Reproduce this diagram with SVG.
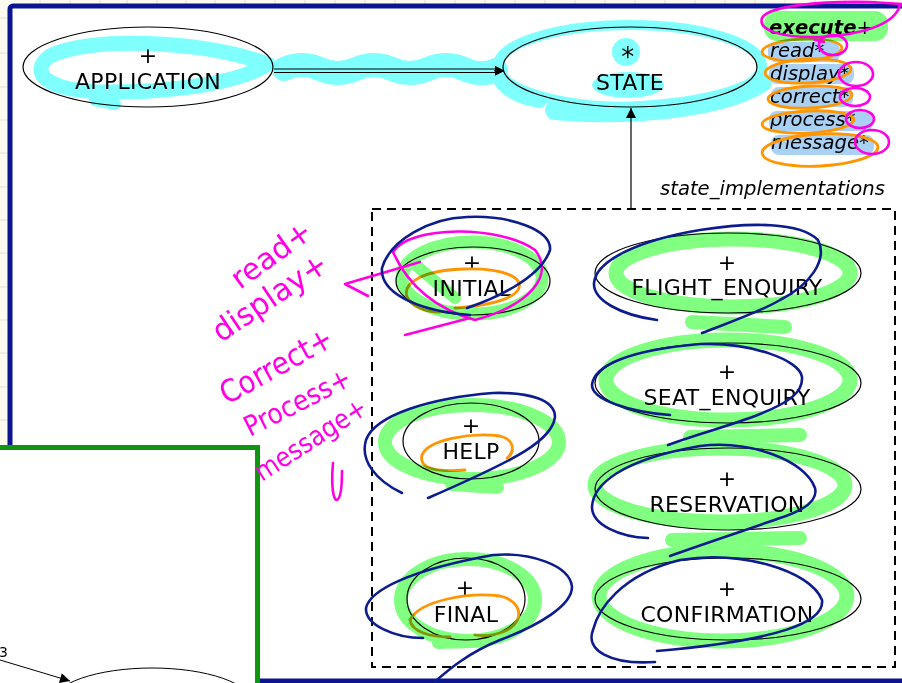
<svg xmlns="http://www.w3.org/2000/svg" width="902" height="683" viewBox="0 0 902 683">
<style>
.node{fill:#fff;stroke:#000;stroke-width:1.2}
.lbl{font-family:"DejaVu Sans",Verdana,sans-serif;font-size:22px;letter-spacing:0.3px;text-anchor:middle;fill:#000}
.feat{font-family:"DejaVu Sans",Verdana,sans-serif;font-style:italic;font-size:19.6px;fill:#000}
.hand{font-family:"DejaVu Sans",sans-serif;font-weight:normal;fill:#ff00e6}
.hl{mix-blend-mode:multiply}
.gr{fill:none;stroke:#80ff80;stroke-linecap:round;stroke-linejoin:round}
.cy{fill:none;stroke:#80ffff;stroke-linecap:round;stroke-linejoin:round}
.or{fill:none;stroke:#ff9500;stroke-width:2.8;stroke-linecap:round}
.mg{fill:none;stroke:#ff00e6;stroke-width:2.6;stroke-linecap:round;stroke-linejoin:round}
.nv{fill:none;stroke:#0c1c8e;stroke-width:2.6;stroke-linecap:round;stroke-linejoin:round}
.grid{stroke:#e4e0d0;stroke-width:1}
</style>
<defs>
<marker id="arr" viewBox="0 0 10 10" refX="10" refY="5" markerWidth="11" markerHeight="10" markerUnits="userSpaceOnUse" orient="auto">
<path d="M0,0 L10,5 L0,10 z" fill="#000"/>
</marker>
</defs>

<!-- background -->
<rect width="902" height="683" fill="#fdfbef"/>
<g class="grid">
<path d="M0 18H8M0 53H8M0 87H8M0 120H8M0 153H8M0 187H8M0 220H8M0 253H8M0 287H8M0 320H8M0 353H8M0 387H8M0 420H8"/>
<path d="M40 0V4M70 0V4M100 0V4M127 0V4M157 0V4M186 0V4M215 0V4M245 0V4M275 0V4M305 0V4M335 0V4M365 0V4M395 0V4M425 0V4M455 0V4M485 0V4M515 0V4M545 0V4M575 0V4M605 0V4M635 0V4M665 0V4M695 0V4M725 0V4M755 0V4M785 0V4M815 0V4M845 0V4M875 0V4"/>
</g>
<rect x="10" y="6" width="900" height="675" rx="3" fill="#fff" stroke="#0b1591" stroke-width="5"/>
<rect x="-10" y="447.5" width="267.5" height="260" fill="#fff" stroke="#0e960e" stroke-width="5"/>

<!-- bottom-left partial content -->
<g id="partial">
<text x="-1" y="657" font-family="DejaVu Sans,sans-serif" font-size="14">3</text>
<ellipse cx="152" cy="703" rx="100" ry="35" fill="none" stroke="#000" stroke-width="1"/>
<path d="M0 660 L70 681" stroke="#000" stroke-width="1" marker-end="url(#arr)"/>
</g>

<!-- connectors -->
<g id="connectors" fill="none" stroke="#000">
<path d="M274 69 H496 M274 72.5 H496" stroke-width="1.2"/>
<path d="M494 70.8 H505" stroke-width="1" marker-end="url(#arr)"/>
<path d="M631 208 V108" stroke-width="1.2" marker-end="url(#arr)"/>
<rect x="372" y="209" width="523" height="458" stroke-width="2" stroke-dasharray="9 6"/>
</g>

<!-- nodes -->
<g id="application">
<ellipse class="node" cx="148" cy="67" rx="125" ry="40"/>
<text class="lbl" x="148" y="63">+</text>
<text class="lbl" x="148" y="89">APPLICATION</text>
</g>
<g id="state">
<ellipse class="node" cx="630" cy="67" rx="127" ry="40"/>
<text class="lbl" x="628" y="66" style="font-size:26px">*</text>
<text class="lbl" x="630" y="90">STATE</text>
<text class="feat" x="769" y="34" font-weight="bold">execute<tspan font-weight="normal">+</tspan></text>
<text class="feat" x="770" y="57">read*</text>
<text class="feat" x="770" y="80">display*</text>
<text class="feat" x="770" y="103">correct*</text>
<text class="feat" x="770" y="126">process*</text>
<text class="feat" x="771" y="149">message*</text>
<text class="feat" x="660" y="195">state_implementations</text>
</g>
<g id="initial">
<ellipse class="node" cx="473" cy="281" rx="77" ry="34"/>
<text class="lbl" x="472" y="270">+</text>
<text class="lbl" x="472" y="296">INITIAL</text>
</g>
<g id="help">
<ellipse class="node" cx="471" cy="441" rx="68" ry="38"/>
<text class="lbl" x="471" y="433">+</text>
<text class="lbl" x="471" y="459">HELP</text>
</g>
<g id="final">
<ellipse class="node" cx="466" cy="599" rx="59" ry="41"/>
<text class="lbl" x="465" y="595">+</text>
<text class="lbl" x="466" y="622">FINAL</text>
</g>
<g id="flight_enquiry">
<ellipse class="node" cx="728" cy="273" rx="133" ry="40"/>
<text class="lbl" x="727" y="270">+</text>
<text class="lbl" x="727" y="295">FLIGHT_ENQUIRY</text>
</g>
<g id="seat_enquiry">
<ellipse class="node" cx="728" cy="383" rx="133" ry="40"/>
<text class="lbl" x="727" y="379">+</text>
<text class="lbl" x="727" y="405">SEAT_ENQUIRY</text>
</g>
<g id="reservation">
<ellipse class="node" cx="728" cy="489" rx="133" ry="41"/>
<text class="lbl" x="727" y="486">+</text>
<text class="lbl" x="727" y="512">RESERVATION</text>
</g>
<g id="confirmation">
<ellipse class="node" cx="728" cy="599" rx="133" ry="41"/>
<text class="lbl" x="727" y="596">+</text>
<text class="lbl" x="727" y="622">CONFIRMATION</text>
</g>

<!-- cyan / light-blue highlights -->
<g class="hl">
<path class="cy" stroke-width="15" d="M268 64 C200 40, 90 36, 50 56 C28 72, 45 92, 110 92 C180 92, 240 82, 268 64"/>
<path class="cy" stroke-width="12" d="M95 100 L115 104"/>
<path class="cy" stroke-width="24" d="M284 69 Q302 61 320 69 T356 69 T392 69 T428 69 T464 69 T496 70"/>
<ellipse class="cy" stroke-width="10" cx="630" cy="66" rx="132" ry="41"/>
<path class="cy" stroke-width="20" d="M555 110 C620 116, 720 110, 762 82"/>
<path class="cy" stroke-width="12" d="M500 82 C510 95, 525 100, 540 102"/>
<circle cx="626" cy="52" r="14" fill="#80ffff"/>
<ellipse cx="628" cy="85" rx="36" ry="13" fill="#80ffff"/>
<g fill="#a9d1f5">
<rect x="768" y="42" width="72" height="20" rx="8"/>
<rect x="769" y="64" width="85" height="20" rx="8"/>
<rect x="771" y="87" width="82" height="20" rx="8"/>
<rect x="769" y="111" width="104" height="20" rx="8"/>
<rect x="771" y="135" width="103" height="20" rx="8"/>
</g>
</g>

<!-- orange pen -->
<g id="orange">
<ellipse class="or" cx="802" cy="50" rx="40" ry="11" transform="rotate(-3 802 50)"/>
<ellipse class="or" cx="808" cy="71" rx="43" ry="12" transform="rotate(-3 808 71)"/>
<ellipse class="or" cx="810" cy="97" rx="42" ry="11" transform="rotate(-3 810 97)"/>
<ellipse class="or" cx="808" cy="122" rx="46" ry="11" transform="rotate(-3 808 122)"/>
<ellipse class="or" cx="820" cy="150" rx="58" ry="16" transform="rotate(-3 820 150)"/>
<path class="or" d="M407 297 C402 282, 425 270, 465 269 C505 268, 525 278, 518 290 C510 302, 480 306, 455 308 M407 297 C412 307, 425 312, 440 312"/>
<path class="or" d="M422 455 C428 440, 470 432, 500 436 C515 440, 515 452, 507 458 M422 455 C418 470, 440 472, 465 470"/>
<path class="or" d="M410 620 C420 600, 470 592, 500 596 C525 602, 525 625, 500 633 C490 636, 480 636, 475 635 M410 620 C412 632, 430 637, 450 637"/>
</g>

<!-- green highlighter -->
<g class="hl">
<rect x="764" y="11" width="124" height="30" rx="13" fill="#80ff80"/>
<ellipse class="gr" stroke-width="13" cx="472" cy="278" rx="70" ry="36"/>
<path class="gr" stroke-width="12" d="M413 263 L455 298"/>
<ellipse class="gr" stroke-width="14" cx="472" cy="442" rx="87" ry="37"/>
<path class="gr" stroke-width="14" d="M452 484 L497 487"/>
<ellipse class="gr" stroke-width="14" cx="468" cy="600" rx="67" ry="41"/>
<path class="gr" stroke-width="12" d="M438 643 L472 642"/>
<ellipse class="gr" stroke-width="15" cx="733" cy="273" rx="117" ry="34"/>
<ellipse class="gr" stroke-width="15" cx="728" cy="380" rx="122" ry="40"/>
<ellipse class="gr" stroke-width="15" cx="720" cy="485" rx="125" ry="37"/>
<ellipse class="gr" stroke-width="15" cx="723" cy="596" rx="124" ry="45"/>
<path class="gr" stroke-width="14" d="M692 322 L785 327"/>
<path class="gr" stroke-width="14" d="M690 437 L800 435"/>
<path class="gr" stroke-width="14" d="M672 540 L800 538"/>
</g>

<!-- magenta pen -->
<g id="magenta">
<path class="mg" d="M900 5 C895 25, 860 35, 820 37 C780 38, 758 30, 762 18 C768 6, 820 1, 870 2 L902 4"/>
<ellipse class="mg" cx="833" cy="45" rx="14" ry="10"/>
<path class="mg" d="M815 40 L824 42"/>
<ellipse class="mg" cx="856" cy="74" rx="17" ry="12"/>
<ellipse class="mg" cx="855" cy="97" rx="15" ry="9"/>
<ellipse class="mg" cx="860" cy="119" rx="14" ry="9"/>
<ellipse class="mg" cx="872" cy="142" rx="17" ry="12"/>
<path class="mg" d="M393 252 C410 225, 500 225, 535 250 C555 275, 530 305, 475 320 C440 310, 410 290, 393 252 M470 318 L405 335"/>
<path class="mg" d="M420 262 L345 284 L368 296"/>
<path class="mg" d="M333 463 C331 485, 333 500, 337 500 C341 498, 342 485, 342 471"/>
<text class="hand" transform="translate(240,290) rotate(-36)" font-size="30" textLength="92" lengthAdjust="spacingAndGlyphs">read+</text>
<text class="hand" transform="translate(221,343) rotate(-34)" font-size="31" textLength="132" lengthAdjust="spacingAndGlyphs">display+</text>
<text class="hand" transform="translate(227,405) rotate(-29)" font-size="31" textLength="124" lengthAdjust="spacingAndGlyphs">Correct+</text>
<text class="hand" transform="translate(250,437) rotate(-27)" font-size="28" textLength="116" lengthAdjust="spacingAndGlyphs">Process+</text>
<text class="hand" transform="translate(262,482) rotate(-33)" font-size="27" textLength="128" lengthAdjust="spacingAndGlyphs">message+</text>
</g>

<!-- navy pen -->
<g id="navy">
<path class="nv" d="M467 308 C490 300, 540 280, 550 250 C552 230, 510 215, 467 217 C430 218, 390 240, 382 268 C380 290, 410 310, 470 315"/>
<path class="nv" d="M402 493 C375 480, 360 460, 366 440 C375 415, 430 398, 493 393 C530 392, 555 400, 555 417 C552 440, 520 458, 428 498"/>
<path class="nv" d="M423 638 C395 638, 365 625, 366 608 C370 590, 410 570, 493 555 C530 552, 570 565, 572 587 C572 605, 540 625, 500 640 C470 652, 450 668, 430 686"/>
<path class="nv" d="M657 320 C620 315, 593 300, 594 283 C596 260, 640 240, 700 230 C750 222, 800 222, 818 240 C828 260, 810 285, 780 300 C760 312, 730 322, 702 333"/>
<path class="nv" d="M670 415 C630 412, 592 400, 592 385 C594 365, 630 350, 700 344 C750 342, 800 360, 802 377 C803 392, 790 402, 760 414 C730 426, 700 433, 668 445"/>
<path class="nv" d="M648 538 C620 537, 592 525, 592 507 C593 485, 620 460, 700 446 C750 440, 805 460, 815 488 C818 500, 805 510, 780 518 C740 532, 700 545, 670 556"/>
<path class="nv" d="M655 662 C610 665, 585 650, 593 630 C598 610, 620 575, 680 560 C740 550, 810 570, 822 600 C825 622, 780 640, 657 651"/>
</g>
</svg>
